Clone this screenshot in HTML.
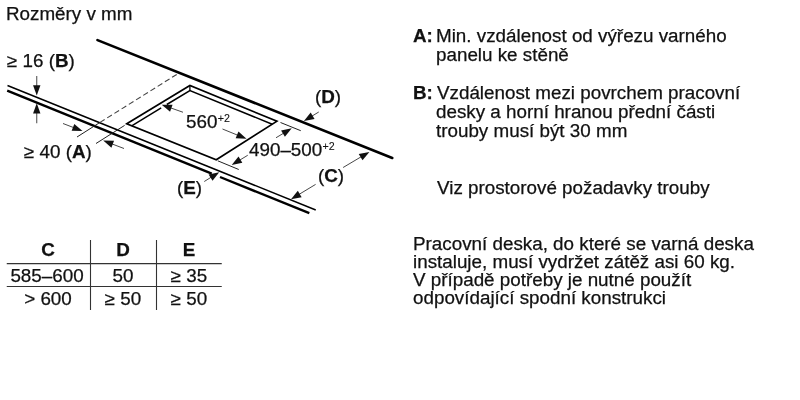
<!DOCTYPE html>
<html><head><meta charset="utf-8">
<style>
html,body{margin:0;padding:0;background:#fff;width:800px;height:400px;overflow:hidden;}
body{position:relative;font-family:"Liberation Sans",sans-serif;color:#111;}
.t{position:absolute;white-space:nowrap;font-size:18px;line-height:18px;transform:scaleX(1.045);transform-origin:0 0;will-change:transform;-webkit-text-stroke:0.25px #111;}
.c{text-align:center;transform-origin:50% 0;}
b{font-weight:bold;}
sup{font-size:10.2px;vertical-align:0;position:relative;top:-6.2px;margin-left:0.3px;-webkit-text-stroke:0.1px #111;}
</style></head><body>
<svg width="800" height="400" style="position:absolute;left:0;top:0"><line x1="97.5" y1="40.1" x2="392.25" y2="158" stroke="#000" stroke-width="2.6" stroke-linecap="round"/><line x1="7.5" y1="85.5" x2="315.75" y2="210" stroke="#000" stroke-width="1.5" /><line x1="7.2" y1="90.7" x2="211.75" y2="173.64" stroke="#000" stroke-width="2.4" /><line x1="220" y1="176.99" x2="309.3" y2="213.2" stroke="#000" stroke-width="2.4" /><polygon points="126.75,123.8 189.9,85.5 277,121.2 216.25,159.75" fill="none" stroke="#000" stroke-width="1.6" stroke-linejoin="miter"/><polyline points="131.71,125.79 161.20,107.91" fill="none" stroke="#000" stroke-width="1.5"/><polyline points="166.80,104.51 189.90,90.50 272.21,124.24" fill="none" stroke="#000" stroke-width="1.5"/><line x1="189.9" y1="85.5" x2="189.9" y2="90.5" stroke="#000" stroke-width="1.3" /><line x1="77" y1="137" x2="100" y2="122.4" stroke="#222" stroke-width="1.0" /><line x1="100" y1="122.4" x2="179" y2="73" stroke="#444" stroke-width="1.1" stroke-dasharray="5.5 3"/><line x1="96" y1="143.5" x2="124.6" y2="125.4" stroke="#222" stroke-width="1.0" /><line x1="63.00" y1="123.50" x2="74.85" y2="128.06" stroke="#333" stroke-width="0.9"/><polygon points="82.50,131.00 71.65,130.79 74.31,123.89" fill="#111"/><line x1="124.00" y1="148.50" x2="110.87" y2="143.51" stroke="#333" stroke-width="0.9"/><polygon points="103.20,140.60 114.05,140.76 111.42,147.68" fill="#111"/><line x1="36.75" y1="76.00" x2="36.75" y2="87.30" stroke="#333" stroke-width="0.9"/><polygon points="36.75,95.50 33.05,85.30 40.45,85.30" fill="#111"/><line x1="36.75" y1="123.25" x2="36.75" y2="111.50" stroke="#333" stroke-width="0.9"/><polygon points="36.75,103.30 40.45,113.50 33.05,113.50" fill="#111"/><line x1="183.00" y1="112.25" x2="169.43" y2="107.47" stroke="#333" stroke-width="0.9"/><polygon points="161.70,104.75 172.55,104.65 170.09,111.63" fill="#111"/><line x1="222.50" y1="129.00" x2="238.91" y2="135.70" stroke="#333" stroke-width="0.9"/><polygon points="246.50,138.80 235.66,138.37 238.46,131.52" fill="#111"/><line x1="280.5" y1="122.5" x2="300.75" y2="130.7" stroke="#222" stroke-width="1.0" /><line x1="217.75" y1="160.8" x2="238.75" y2="169.5" stroke="#222" stroke-width="1.0" /><line x1="276.00" y1="137.75" x2="284.72" y2="132.52" stroke="#333" stroke-width="0.9"/><polygon points="291.75,128.30 284.91,136.72 281.10,130.38" fill="#111"/><line x1="247.75" y1="155.25" x2="238.71" y2="160.74" stroke="#333" stroke-width="0.9"/><polygon points="231.70,165.00 238.50,156.54 242.34,162.87" fill="#111"/><line x1="318.75" y1="112.00" x2="310.91" y2="116.75" stroke="#333" stroke-width="0.9"/><polygon points="303.90,121.00 310.71,112.55 314.54,118.88" fill="#111"/><line x1="343.10" y1="167.50" x2="362.35" y2="156.08" stroke="#333" stroke-width="0.9"/><polygon points="369.40,151.90 362.51,160.29 358.74,153.92" fill="#111"/><line x1="315.60" y1="184.40" x2="298.02" y2="195.01" stroke="#333" stroke-width="0.9"/><polygon points="291.00,199.25 297.82,190.81 301.64,197.15" fill="#111"/><line x1="204.25" y1="181.50" x2="212.28" y2="176.52" stroke="#333" stroke-width="0.9"/><polygon points="219.25,172.20 212.53,180.72 208.63,174.43" fill="#111"/><line x1="6.75" y1="263.6" x2="221.75" y2="263.6" stroke="#333" stroke-width="1.1" /><line x1="6.75" y1="286.5" x2="221.75" y2="286.5" stroke="#333" stroke-width="1.1" /><line x1="90.5" y1="240" x2="90.5" y2="310" stroke="#333" stroke-width="1.1" /><line x1="156.5" y1="240" x2="156.5" y2="310" stroke="#333" stroke-width="1.1" /></svg>
<div class="t" style="left:6px;top:4.90px;">Rozměry v mm</div><div class="t" style="left:413px;top:27.10px;"><b>A:</b></div><div class="t" style="left:436px;top:27.10px;">Min. vzdálenost od výřezu varného</div><div class="t" style="left:436px;top:46.00px;">panelu ke stěně</div><div class="t" style="left:413px;top:84.25px;"><b>B:</b></div><div class="t" style="left:436.5px;top:84.25px;">Vzdálenost mezi povrchem pracovní</div><div class="t" style="left:436px;top:102.60px;">desky a horní hranou přední části</div><div class="t" style="left:436px;top:121.50px;">trouby musí být 30 mm</div><div class="t" style="left:436.7px;top:178.50px;">Viz prostorové požadavky trouby</div><div class="t" style="left:413.3px;top:234.90px;">Pracovní deska, do které se varná deska</div><div class="t" style="left:413.3px;top:253.05px;">instaluje, musí vydržet zátěž asi 60 kg.</div><div class="t" style="left:413.3px;top:271.20px;">V případě potřeby je nutné použít</div><div class="t" style="left:413.3px;top:289.35px;">odpovídající spodní konstrukci</div><div class="t" style="left:6.8px;top:51.50px;">≥ 16 (<b>B</b>)</div><div class="t" style="left:24px;top:142.50px;">≥ 40 (<b>A</b>)</div><div class="t" style="left:185.5px;top:112.80px;">560<sup>+2</sup></div><div class="t" style="left:248.5px;top:140.60px;">490–500<sup>+2</sup></div><div class="t" style="left:314.7px;top:88.40px;">(<b>D</b>)</div><div class="t" style="left:317.6px;top:166.80px;">(<b>C</b>)</div><div class="t" style="left:176.5px;top:178.50px;">(<b>E</b>)</div><div class="t c" style="left:-12.5px;top:240.90px;width:120px;"><b>C</b></div><div class="t c" style="left:63px;top:240.90px;width:120px;"><b>D</b></div><div class="t c" style="left:129.4px;top:240.90px;width:120px;"><b>E</b></div><div class="t c" style="left:-12.75px;top:266.80px;width:120px;">585–600</div><div class="t c" style="left:63px;top:266.80px;width:120px;">50</div><div class="t c" style="left:129px;top:266.80px;width:120px;">≥ 35</div><div class="t c" style="left:-12.399999999999999px;top:290.20px;width:120px;">&gt; 600</div><div class="t c" style="left:63px;top:290.20px;width:120px;">≥ 50</div><div class="t c" style="left:129px;top:290.20px;width:120px;">≥ 50</div>
</body></html>
